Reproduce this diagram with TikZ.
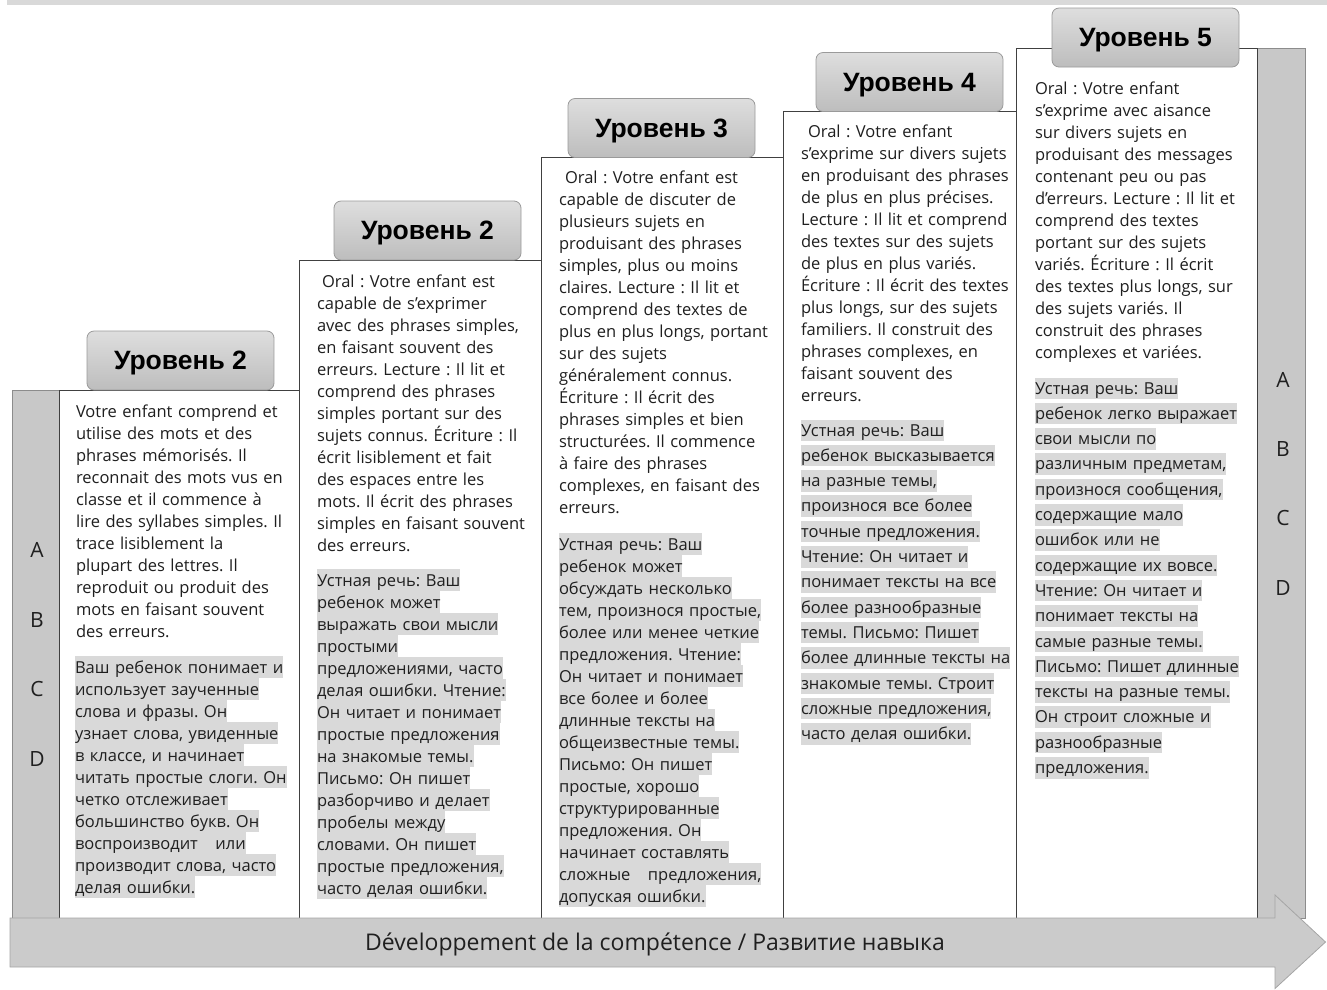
\documentclass[tikz,border=0pt]{standalone}
\usepackage{fontspec}
\setmainfont{Open Sans}
\newfontfamily\headfont{Liberation Sans}
\frenchspacing
\definecolor{hlgray}{HTML}{D9D9D9}
\definecolor{txt}{HTML}{1F1F1F}
\definecolor{boxline}{HTML}{404040}
\definecolor{side}{HTML}{C8C8C8}
\definecolor{sideborder}{HTML}{8C8C8C}
\definecolor{headtop}{HTML}{DEDEDE}
\definecolor{headbot}{HTML}{BDBDBD}
\definecolor{headborder}{HTML}{9A9A9A}
\definecolor{arrowfill}{HTML}{CBCBCB}
\definecolor{arrowborder}{HTML}{A5A5A5}
\definecolor{topbar}{HTML}{D9D9D9}
\newcommand\strutA{\vrule width0pt height17.5pt depth4.5pt\relax}
\newcommand\hA[1]{{\setlength{\fboxsep}{0pt}\colorbox{hlgray}{\strutA#1}}}
\newcommand\strutB{\vrule width0pt height16.5pt depth5pt\relax}
\newcommand\hB[1]{{\setlength{\fboxsep}{0pt}\colorbox{hlgray}{\strutB#1}}}
\tikzset{
  boxc/.style={draw=boxline, line width=1pt, fill=white, anchor=north west, inner sep=0pt, outer sep=0pt},
  sidebar/.style={draw=sideborder, fill=side, line width=0.8pt, anchor=north west, inner sep=0pt, outer sep=0pt},
  head/.style={draw=headborder, line width=0.8pt, rounded corners=7pt, top color=headtop, bottom color=headbot,
    minimum width=187pt, minimum height=59pt, inner sep=0pt, text=black},
  headtxt/.style={font=\headfont\fontsize{26.5}{30}\selectfont\bfseries, text=black, inner sep=0pt},
  para/.style={anchor=north west, inner sep=0pt, outer sep=0pt, text width=250pt, align=left,
    font=\fontsize{16.5}{22}\selectfont, text=txt},
  paraB/.style={para, font=\fontsize{16.5}{25.3}\selectfont},
  letter/.style={font=\fontsize{21}{24}\selectfont, text=txt, inner sep=0pt},
  arrowlbl/.style={font=\fontsize{23}{26}\selectfont, text=txt, inner sep=0pt}
}
\begin{document}
\begin{tikzpicture}[x=1pt,y=-1pt]
\useasboundingbox (0,0) rectangle (1327,989);
\fill[topbar] (7,0) rectangle (1327,5);
% side columns
\node[sidebar, minimum width=47pt, minimum height=528pt] (lcol) at (12,390) {};
\node[sidebar, minimum width=48pt, minimum height=870pt] (rcol) at (1257,48) {};
% boxes
\node[boxc, minimum width=240pt, minimum height=528pt] (b1) at (59,390) {};
\node[boxc, minimum width=242pt, minimum height=658pt] (b2) at (299,260) {};
\node[boxc, minimum width=242pt, minimum height=761pt] (b3) at (541,157) {};
\node[boxc, minimum width=233pt, minimum height=807pt] (b4) at (783,111) {};
\node[boxc, minimum width=241pt, minimum height=870pt] (b5) at (1016,48) {};
% headers
\node[head] (h1) at (180.5,360.5) {};
\node[head] (h2) at (427.5,230.5) {};
\node[head] (h3) at (661.5,128) {};
\node[head] (h4) at (909.5,82) {};
\node[head] (h5) at (1145.5,37.5) {};
\node[headtxt, anchor=base] (h1t) at ([yshift=-9pt]h1.center) {Уровень 2};
\node[headtxt, anchor=base] (h2t) at ([yshift=-9pt]h2.center) {Уровень 2};
\node[headtxt, anchor=base] (h3t) at ([yshift=-9pt]h3.center) {Уровень 3};
\node[headtxt, anchor=base] (h4t) at ([yshift=-9pt]h4.center) {Уровень 4};
\node[headtxt, anchor=base] (h5t) at ([yshift=-9pt]h5.center) {Уровень 5};
% letters
\node[letter] (la1) at (37,550) {A};
\node[letter] (lb1) at (37,620) {B};
\node[letter] (lc1) at (37,689) {C};
\node[letter] (ld1) at (37,759) {D};
\node[letter] (la2) at (1283,380) {A};
\node[letter] (lb2) at (1283,449) {B};
\node[letter] (lc2) at (1283,518) {C};
\node[letter] (ld2) at (1283,588) {D};
% box 1
\node[para] (t1fr) at (76,399.5) {\strutA Votre enfant comprend et\\
utilise des mots et des\\
phrases mémorisés. Il\\
reconnait des mots vus en\\
classe et il commence à\\
lire des syllabes simples. Il\\
trace lisiblement la\\
plupart des lettres. Il\\
reproduit ou produit des\\
mots en faisant souvent\\
des erreurs.};
\node[para] (t1ru) at (75,655.5) {\hA{Ваш ребенок понимает и}\\
\hA{использует заученные}\\
\hA{слова и фразы. Он}\\
\hA{узнает слова, увиденные}\\
\hA{в классе, и начинает}\\
\hA{читать простые слоги. Он}\\
\hA{четко отслеживает}\\
\hA{большинство букв. Он}\\
\hA{воспроизводит\hspace{12pt} или}\\
\hA{производит слова, часто}\\
\hA{делая ошибки.}};
% box 2
\node[para] (t2fr) at (317,269.5) {\strutA\hspace*{5pt}Oral : Votre enfant est\\
capable de s’exprimer\\
avec des phrases simples,\\
en faisant souvent des\\
erreurs. Lecture : Il lit et\\
comprend des phrases\\
simples portant sur des\\
sujets connus. Écriture : Il\\
écrit lisiblement et fait\\
des espaces entre les\\
mots. Il écrit des phrases\\
simples en faisant souvent\\
des erreurs.};
\node[para] (t2ru) at (317,568.5) {\hA{Устная речь: Ваш}\\
\hA{ребенок может}\\
\hA{выражать свои мысли}\\
\hA{простыми}\\
\hA{предложениями, часто}\\
\hA{делая ошибки. Чтение:}\\
\hA{Он читает и понимает}\\
\hA{простые предложения}\\
\hA{на знакомые темы.}\\
\hA{Письмо: Он пишет}\\
\hA{разборчиво и делает}\\
\hA{пробелы между}\\
\hA{словами. Он пишет}\\
\hA{простые предложения,}\\
\hA{часто делая ошибки.}};
% box 3
\node[para] (t3fr) at (559,165.5) {\strutA\hspace*{6pt}Oral : Votre enfant est\\
capable de discuter de\\
plusieurs sujets en\\
produisant des phrases\\
simples, plus ou moins\\
claires. Lecture : Il lit et\\
comprend des textes de\\
plus en plus longs, portant\\
sur des sujets\\
généralement connus.\\
Écriture : Il écrit des\\
phrases simples et bien\\
structurées. Il commence\\
à faire des phrases\\
complexes, en faisant des\\
erreurs.};
\node[para] (t3ru) at (559,532.5) {\hA{Устная речь: Ваш}\\
\hA{ребенок может}\\
\hA{обсуждать несколько}\\
\hA{тем, произнося простые,}\\
\hA{более или менее четкие}\\
\hA{предложения. Чтение:}\\
\hA{Он читает и понимает}\\
\hA{все более и более}\\
\hA{длинные тексты на}\\
\hA{общеизвестные темы.}\\
\hA{Письмо: Он пишет}\\
\hA{простые, хорошо}\\
\hA{структурированные}\\
\hA{предложения. Он}\\
\hA{начинает составлять}\\
\hA{сложные\hspace{12pt} предложения,}\\
\hA{допуская ошибки.}};
% box 4
\node[para] (t4fr) at (801,119.5) {\strutA\hspace*{7pt}Oral : Votre enfant\\
s’exprime sur divers sujets\\
en produisant des phrases\\
de plus en plus précises.\\
Lecture : Il lit et comprend\\
des textes sur des sujets\\
de plus en plus variés.\\
Écriture : Il écrit des textes\\
plus longs, sur des sujets\\
familiers. Il construit des\\
phrases complexes, en\\
faisant souvent des\\
erreurs.};
\node[paraB] (t4ru) at (801,419.5) {\hB{Устная речь: Ваш}\\
\hB{ребенок высказывается}\\
\hB{на разные темы,}\\
\hB{произнося все более}\\
\hB{точные предложения.}\\
\hB{Чтение: Он читает и}\\
\hB{понимает тексты на все}\\
\hB{более разнообразные}\\
\hB{темы. Письмо: Пишет}\\
\hB{более длинные тексты на}\\
\hB{знакомые темы. Строит}\\
\hB{сложные предложения,}\\
\hB{часто делая ошибки.}};
% box 5
\node[para] (t5fr) at (1035,76.5) {\strutA Oral : Votre enfant\\
s’exprime avec aisance\\
sur divers sujets en\\
produisant des messages\\
contenant peu ou pas\\
d’erreurs. Lecture : Il lit et\\
comprend des textes\\
portant sur des sujets\\
variés. Écriture : Il écrit\\
des textes plus longs, sur\\
des sujets variés. Il\\
construit des phrases\\
complexes et variées.};
\node[paraB] (t5ru) at (1035,377.5) {\hB{Устная речь: Ваш}\\
\hB{ребенок легко выражает}\\
\hB{свои мысли по}\\
\hB{различным предметам,}\\
\hB{произнося сообщения,}\\
\hB{содержащие мало}\\
\hB{ошибок или не}\\
\hB{содержащие их вовсе.}\\
\hB{Чтение: Он читает и}\\
\hB{понимает тексты на}\\
\hB{самые разные темы.}\\
\hB{Письмо: Пишет длинные}\\
\hB{тексты на разные темы.}\\
\hB{Он строит сложные и}\\
\hB{разнообразные}\\
\hB{предложения.}};
% arrow
\path[draw=arrowborder, fill=arrowfill, line width=0.8pt]
  (10,918) -- (1275,918) -- (1275,895) -- (1325.5,942) -- (1275,988.5) -- (1275,967) -- (10,967) -- cycle;
\node[arrowlbl] (arrowlabel) at (655,944) {Développement de la compétence / Развитие навыка};
\end{tikzpicture}
\end{document}
